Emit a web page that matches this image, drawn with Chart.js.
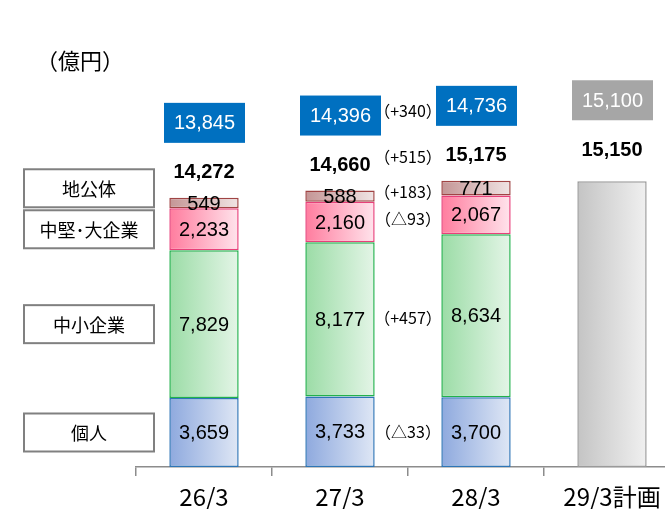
<!DOCTYPE html>
<html>
<head>
<meta charset="utf-8">
<script src="https://cdn.jsdelivr.net/npm/chart.js@4"></script>
<style>
  html, body { margin: 0; padding: 0; background: #fff; overflow: hidden; }
  canvas { display: block; }
</style>
</head>
<body>
<canvas id="chart" width="690" height="509"></canvas>
<script>
// categories and values (億円)
const categories = ['26/3', '27/3', '28/3', '29/3計画'];
const seriesNames = ['個人', '中小企業', '中堅･大企業', '地公体'];
const kojin = [3659, 3733, 3700, null];
const chusho = [7829, 8177, 8634, null];
const chuken = [2233, 2160, 2067, null];
const chikotai = [549, 588, 771, null];
const planBar = [null, null, null, 15150];
const totals = [14272, 14660, 15175, 15150];
const planned = [13845, 14396, 14736, 15100];
const segmentChanges = ['△33', '+457', '△93', '+183'];
const totalChange = '+515';
const planChange = '+340';

const JP = '"Noto Sans CJK JP", "Noto Sans", sans-serif';
const NUM = '"Liberation Sans", Arial, sans-serif';
const BAR_PCT = 0.51;

function fmt(v) {
  return v.toLocaleString('en-US');
}

// horizontal gradient across each bar
function grad(from, to) {
  return (ctx) => {
    const chart = ctx.chart;
    const x = chart.scales.x;
    if (!x || ctx.dataIndex === undefined || !x.width) return from;
    const cx = x.getPixelForValue(ctx.dataIndex);
    const half = (x.width / categories.length) * BAR_PCT / 2;
    const g = chart.ctx.createLinearGradient(cx - half, 0, cx + half, 0);
    g.addColorStop(0, from);
    g.addColorStop(1, to);
    return g;
  };
}

function topOf(chart, i) {
  let top = null;
  chart.data.datasets.forEach((ds, d) => {
    if (ds.data[i] == null) return;
    const el = chart.getDatasetMeta(d).data[i];
    if (top === null || el.y < top) top = el.y;
  });
  return top;
}

const annotations = {
  id: 'annotations',
  afterDatasetsDraw(chart) {
    const c = chart.ctx;
    const x = chart.scales.x;
    c.save();
    c.textAlign = 'center';
    c.textBaseline = 'middle';

    // segment values
    c.fillStyle = '#000';
    c.font = '20px ' + NUM;
    for (let d = 0; d < 4; d++) {
      const meta = chart.getDatasetMeta(d);
      meta.data.forEach((el, i) => {
        const v = chart.data.datasets[d].data[i];
        if (v == null) return;
        c.fillText(fmt(v), el.x, (el.y + el.base) / 2 + 1);
      });
    }

    // totals and planned boxes
    const totalY = [];
    const boxY = [];
    categories.forEach((cat, i) => {
      const cx = x.getPixelForValue(i);
      const top = topOf(chart, i);
      const ty = top - (i === categories.length - 1 ? 31 : 25);
      totalY.push(ty);
      c.fillStyle = '#000';
      c.font = 'bold 20px ' + NUM;
      c.fillText(fmt(totals[i]), cx, ty);

      const by = ty - 50;
      boxY.push(by);
      c.fillStyle = i === categories.length - 1 ? '#A6A6A6' : '#0070C0';
      c.fillRect(cx - 40, by - 20, 81, 40);
      c.fillStyle = '#fff';
      c.font = '20px ' + NUM;
      c.fillText(fmt(planned[i]), cx + 0.5, by + 1);
    });

    // changes between 27/3 and 28/3
    const mx = (x.getPixelForValue(1) + x.getPixelForValue(2)) / 2;
    c.fillStyle = '#000';
    c.font = '16px ' + JP;
    for (let d = 0; d < 4; d++) {
      const a = chart.getDatasetMeta(d).data[1];
      const b = chart.getDatasetMeta(d).data[2];
      const y = ((a.y + a.base) / 2 + (b.y + b.base) / 2) / 2;
      c.fillText('（' + segmentChanges[d] + '）', mx, y);
    }
    c.fillText('（' + totalChange + '）', mx, (totalY[1] + totalY[2]) / 2 - 4);
    c.fillText('（' + planChange + '）', mx, (boxY[1] + boxY[2]) / 2);

    // series name boxes on the left, aligned with the first bar
    let limit = Infinity;
    const h = 38;
    for (let d = 0; d < 4; d++) {
      const el = chart.getDatasetMeta(d).data[0];
      let cy = (el.y + el.base) / 2;
      if (cy + h / 2 > limit - 3) cy = limit - 3 - h / 2;
      limit = cy - h / 2;
      c.fillStyle = '#fff';
      c.fillRect(24, cy - h / 2, 130, h);
      c.strokeStyle = '#808080';
      c.lineWidth = 2;
      c.strokeRect(24, cy - h / 2, 130, h);
      c.fillStyle = '#000';
      c.font = '18px ' + JP;
      c.fillText(seriesNames[d], 89, cy + 1);
    }

    // unit
    c.textAlign = 'left';
    c.font = '22px ' + JP;
    c.fillText('（億円）', 36, 61);
    c.restore();
  }
};

const common = {
  borderWidth: 1.5,
  borderSkipped: false,
  barPercentage: BAR_PCT,
  categoryPercentage: 1,
  stack: 's'
};

new Chart(document.getElementById('chart'), {
  type: 'bar',
  data: {
    labels: categories,
    datasets: [
      { ...common, label: seriesNames[0], data: kojin,
        backgroundColor: grad('#8EA9DE', '#DFE7F5'), borderColor: '#2E75B6' },
      { ...common, label: seriesNames[1], data: chusho,
        backgroundColor: grad('#9BDCA6', '#E4F5E7'), borderColor: '#22B14C' },
      { ...common, label: seriesNames[2], data: chuken,
        backgroundColor: grad('#FF7C9E', '#FFE4EC'), borderColor: '#E8407A' },
      { ...common, label: seriesNames[3], data: chikotai,
        backgroundColor: grad('#C49595', '#F0E4E4'), borderColor: '#A04444' },
      { ...common, label: '計画', data: planBar,
        backgroundColor: grad('#C4C4C4', '#F0F0F0'), borderColor: '#9A9A9A' }
    ]
  },
  options: {
    responsive: false,
    animation: false,
    devicePixelRatio: 1,
    layout: { padding: { left: 136, right: 10, top: 20, bottom: 0 } },
    plugins: {
      legend: { display: false },
      tooltip: { enabled: false }
    },
    scales: {
      x: {
        stacked: true,
        grid: { display: true, drawOnChartArea: false, drawTicks: true, tickLength: 9, color: '#8C8C8C', lineWidth: 1.5 },
        border: { display: true, color: '#8C8C8C', width: 1.5 },
        ticks: { color: '#000', font: { family: JP, size: 24 }, padding: 6, maxRotation: 0, autoSkip: false },
        afterFit(scale) { scale.height = 42; }
      },
      y: {
        stacked: true,
        display: false,
        min: 0,
        max: 23700
      }
    }
  },
  plugins: [annotations]
});
</script>
</body>
</html>
